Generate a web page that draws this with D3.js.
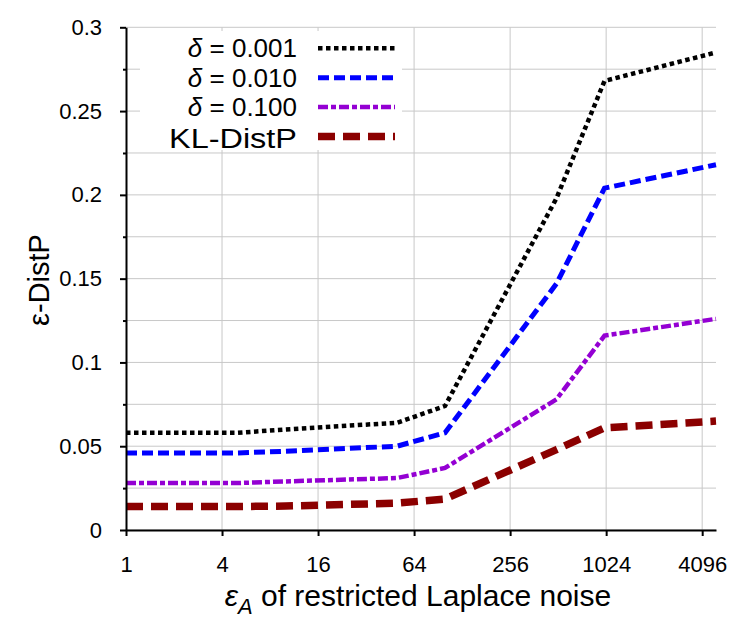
<!DOCTYPE html>
<html><head><meta charset="utf-8">
<script src="https://cdn.jsdelivr.net/npm/d3@7"></script>
<style>body{margin:0;background:#fff}svg{display:block}text{font-family:"Liberation Sans",Arial,sans-serif;fill:#000}</style>
</head><body>
<svg id="c" width="750" height="630"></svg>
<script>
const xValues = [1, 5, 10, 50, 100, 500, 1000, 5000];
const delta001 = [0.058, 0.058, 0.060, 0.064, 0.074, 0.198, 0.268, 0.285];
const delta010 = [0.046, 0.046, 0.047, 0.050, 0.058, 0.147, 0.204, 0.218];
const delta100 = [0.028, 0.028, 0.029, 0.031, 0.037, 0.078, 0.116, 0.126];
const klDistP  = [0.014, 0.014, 0.0143, 0.016, 0.0185, 0.048, 0.061, 0.065];
const seriesNames = ["δ = 0.001", "δ = 0.010", "δ = 0.100", "KL-DistP"];
const xTickValues = [1, 4, 16, 64, 256, 1024, 4096];
const yTickValues = [0, 0.05, 0.1, 0.15, 0.2, 0.25, 0.3];
const yGridValues = [0, 0.025, 0.05, 0.075, 0.1, 0.125, 0.15, 0.175, 0.2, 0.225, 0.25, 0.275, 0.3];

const styles = [
  {color: "#000000", width: 4.5, dash: "4.5,3.5"},
  {color: "#0000ff", width: 5, dash: "11,5"},
  {color: "#9400d3", width: 4.5, dash: "10,3,5,3"},
  {color: "#8b0000", width: 7.5, dash: "17,8"}
];
const allSeries = [delta001, delta010, delta100, klDistP];

const svg = d3.select("#c");
const x = d3.scaleLog().base(2).domain([1, 5000]).range([126, 716]);
const y = d3.scaleLinear().domain([0, 0.3]).range([530, 27.3]);

// grid
const grid = svg.append("g").attr("stroke", "#c8c8c8").attr("stroke-width", 1);
grid.selectAll("line.h").data(yGridValues).join("line")
  .attr("x1", x(1)).attr("x2", x(5000))
  .attr("y1", d => y(d)).attr("y2", d => y(d));
grid.selectAll("line.v").data(xTickValues.slice(1)).join("line")
  .attr("x1", d => x(d)).attr("x2", d => x(d))
  .attr("y1", y(0)).attr("y2", y(0.3));

// lines
const line = d3.line().x((d, i) => x(xValues[i])).y(d => y(d));
allSeries.forEach((s, k) => {
  svg.append("path").datum(s).attr("d", line)
    .attr("fill", "none").attr("stroke", styles[k].color)
    .attr("stroke-width", styles[k].width)
    .attr("stroke-dasharray", styles[k].dash);
});

// legend
svg.append("rect").attr("x", 140).attr("y", 31).attr("width", 262).attr("height", 119).attr("fill", "#fff");
const leg = svg.append("g");
seriesNames.forEach((name, k) => {
  const cy = 48.3 + k * 29.4;
  const isDelta = name.startsWith("δ");
  const t = leg.append("text").attr("x", 297).attr("y", cy + (isDelta ? 9 : 11)).attr("text-anchor", "end")
    .style("font-size", isDelta ? "26px" : "27px");
  if (isDelta) {
    t.append("tspan").style("font-style", "italic").text("δ");
    t.append("tspan").text(name.slice(1));
  } else {
    t.attr("x", 169).attr("text-anchor", "start")
      .attr("textLength", 128).attr("lengthAdjust", "spacingAndGlyphs").text(name);
  }
  leg.append("line").attr("x1", 318).attr("x2", 395).attr("y1", cy).attr("y2", cy)
    .attr("stroke", styles[k].color).attr("stroke-width", styles[k].width)
    .attr("stroke-dasharray", styles[k].dash);
});

// axes
const xAxis = svg.append("g").attr("transform", `translate(0,${y(0)})`)
  .call(d3.axisBottom(x).tickValues(xTickValues).tickFormat(d3.format("d")).tickSize(6).tickSizeOuter(0).tickPadding(20));
xAxis.selectAll("text").style("font-size", "22px");
const yAxis = svg.append("g").attr("transform", `translate(${x(1)},0)`)
  .call(d3.axisLeft(y).tickValues(yTickValues).tickFormat(d => d === 0 ? "0" : String(d)).tickSize(6).tickSizeOuter(0).tickPadding(18));
yAxis.selectAll("text").style("font-size", "22px");
svg.append("g").attr("transform", `translate(${x(1)},0)`)
  .call(d3.axisLeft(y).tickValues(yGridValues.filter((d, i) => i % 2 === 1)).tickFormat("").tickSize(3).tickSizeOuter(0))
  .select(".domain").remove();
svg.selectAll(".domain, .tick line").attr("stroke", "#000").attr("stroke-width", 2);

// titles
const xt = svg.append("text").attr("x", 418).attr("y", 606).attr("text-anchor", "middle").style("font-size", "30px");
xt.append("tspan").style("font-style", "italic").text("ε");
xt.append("tspan").style("font-style", "italic").style("font-size", "22px").attr("dy", 8).text("A");
xt.append("tspan").attr("dy", -8).text(" of restricted Laplace noise");
svg.append("text").attr("transform", "translate(49,280) rotate(-90)").attr("text-anchor", "middle")
  .style("font-size", "29px").text("ε-DistP");
</script>
</body></html>
